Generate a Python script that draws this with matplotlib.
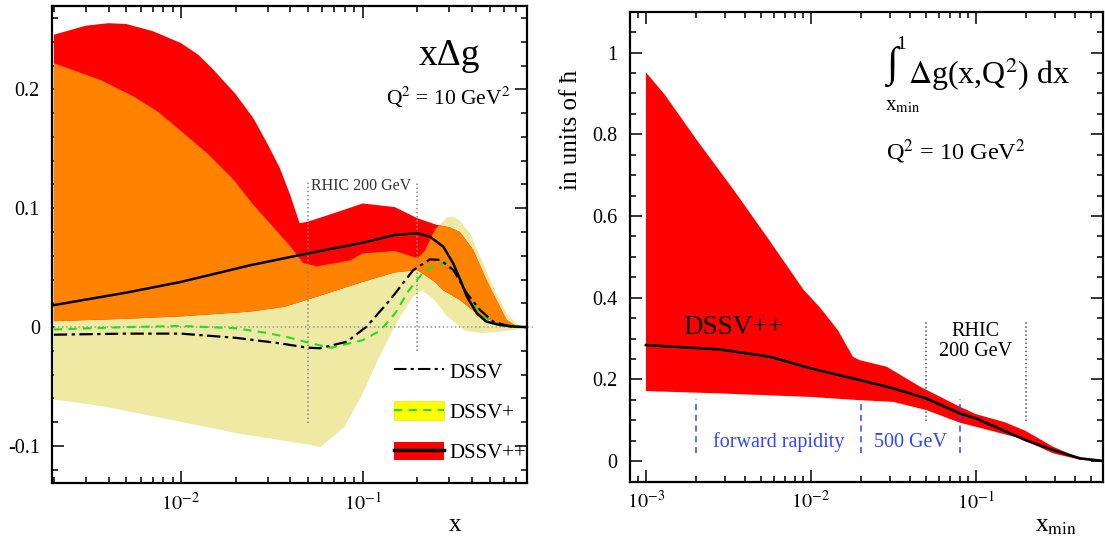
import numpy as np
import matplotlib
matplotlib.use("Agg")
import matplotlib.pyplot as plt
from matplotlib.ticker import LogLocator, MultipleLocator, FuncFormatter, NullFormatter
from matplotlib.lines import Line2D
from matplotlib.patches import Patch

plt.rcParams["font.family"] = ["Liberation Serif", "DejaVu Serif"]
plt.rcParams["mathtext.fontset"] = "stix"
plt.rcParams["axes.unicode_minus"] = False

# ---- left panel: x*Delta g(x) at Q2 = 10 GeV2 ----
# DSSV++ band (red)
pp_hi_x = [0.002, 0.003, 0.004, 0.005, 0.007, 0.01, 0.0125, 0.015, 0.02, 0.025, 0.03, 0.035, 0.04, 0.045,
           0.05, 0.07, 0.1, 0.15, 0.2, 0.256, 0.3, 0.343, 0.406, 0.48, 0.57, 0.62, 0.7, 0.8]
pp_hi_y = [0.246, 0.2536, 0.2557, 0.255, 0.249, 0.239, 0.229, 0.217, 0.196, 0.176, 0.154, 0.134, 0.111, 0.0874,
           0.0887, 0.096, 0.104, 0.101, 0.0916, 0.086, 0.084, 0.08, 0.065, 0.0396, 0.017, 0.006, 0.001, 0.0]
pp_lo_x = [0.002, 0.005, 0.01, 0.024, 0.037, 0.056, 0.1, 0.15, 0.2, 0.25, 0.278, 0.343, 0.424, 0.524, 0.65, 0.8]
pp_lo_y = [0.005, 0.007, 0.009, 0.013, 0.017, 0.0256, 0.038, 0.046, 0.048, 0.038, 0.031, 0.0228, 0.0116, 0.0045, 0.0005, 0.0]

# DSSV+ band (yellow)
p_hi_x = [0.002, 0.0036, 0.0055, 0.0075, 0.01, 0.014, 0.0195, 0.025, 0.031, 0.04, 0.047, 0.056, 0.085, 0.1,
          0.15, 0.2, 0.22, 0.25, 0.29, 0.315, 0.34, 0.39, 0.461, 0.524, 0.62, 0.7, 0.8]
p_hi_y = [0.222, 0.208, 0.194, 0.181, 0.165, 0.146, 0.124, 0.103, 0.087, 0.068, 0.054, 0.051, 0.056, 0.062,
          0.064, 0.058, 0.064, 0.082, 0.092, 0.093, 0.09, 0.079, 0.0537, 0.034, 0.0116, 0.003, 0.0]
p_lo_x = [0.002, 0.00375, 0.01, 0.0214, 0.0498, 0.0585, 0.0794, 0.0987, 0.1227, 0.1527, 0.19, 0.212,
          0.247, 0.294, 0.365, 0.454, 0.565, 0.703, 0.8]
p_lo_y = [-0.0609, -0.0667, -0.0797, -0.09, -0.0986, -0.101, -0.084, -0.058, -0.026, 0.003, 0.026, 0.031,
          0.023, 0.0087, -0.003, -0.005, -0.004, -0.002, 0.0]

# central curves
pp_x = [0.002, 0.005, 0.01, 0.024, 0.05, 0.1, 0.15, 0.2, 0.235, 0.278, 0.315, 0.345, 0.375, 0.425, 0.48, 0.57, 0.7, 0.8]
pp_y = [0.0185, 0.029, 0.038, 0.052, 0.062, 0.071, 0.0775, 0.079, 0.076, 0.0677, 0.0537, 0.0396, 0.0256,
        0.0116, 0.0046, 0.0018, 0.0003, 0.0]
dssv_x = [0.002, 0.005, 0.01, 0.02, 0.035, 0.0494, 0.0583, 0.0818, 0.105, 0.1415, 0.19, 0.235, 0.267,
          0.316, 0.374, 0.443, 0.524, 0.65, 0.8]
dssv_y = [-0.0064, -0.0055, -0.0055, -0.009, -0.0136, -0.0173, -0.0178, -0.0123, 0.0003, 0.0228, 0.048,
          0.057, 0.0565, 0.048, 0.0285, 0.0144, 0.0045, 0.0005, 0.0]
plus_x = [0.002, 0.005, 0.01, 0.02, 0.03, 0.04, 0.05, 0.0667, 0.1, 0.125, 0.151, 0.178, 0.22, 0.25, 0.29,
          0.343, 0.39, 0.46, 0.55, 0.7, 0.8]
plus_y = [-0.002, 0.0, 0.001, -0.001, -0.005, -0.009, -0.013, -0.0174, -0.011, -0.003, 0.0116, 0.03, 0.048,
          0.051, 0.055, 0.042, 0.023, 0.0088, 0.002, 0.0, 0.0]

rhic200 = [0.05, 0.2]
legend_labels = ["DSSV", "DSSV+", "DSSV++"]

# ---- right panel: truncated integral ----
int_hi_x = [0.001, 0.0013, 0.002, 0.0034, 0.0055, 0.009, 0.0114, 0.0146, 0.018, 0.0198, 0.0288, 0.046,
            0.08, 0.1, 0.15, 0.2, 0.294, 0.43, 0.6]
int_hi_y = [0.9515, 0.897, 0.79, 0.664, 0.545, 0.42, 0.375, 0.32, 0.255, 0.247, 0.231, 0.182,
            0.133, 0.115, 0.095, 0.074, 0.035, 0.0066, 0.0]
int_lo_x = [0.001, 0.0028, 0.01, 0.02, 0.0316, 0.05, 0.08, 0.1, 0.185, 0.294, 0.43, 0.6]
int_lo_y = [0.1714, 0.1657, 0.157, 0.149, 0.145, 0.125, 0.094, 0.084, 0.056, 0.019, 0.003, 0.0]
int_x = [0.001, 0.0028, 0.00565, 0.01, 0.02, 0.0316, 0.05, 0.08, 0.1, 0.2, 0.294, 0.43, 0.6]
int_y = [0.284, 0.2734, 0.2554, 0.2269, 0.198, 0.178, 0.1534, 0.1167, 0.1045, 0.0514, 0.0269, 0.0065, 0.0]

rhic500 = [0.002, 0.02, 0.08]


def log_fmt(v, pos):
    e = int(round(np.log10(v)))
    return r"$10^{%d}$" % e


def style_axes(ax, ymajor, yminor):
    ax.set_xscale("log")
    ax.xaxis.set_major_locator(LogLocator(base=10))
    ax.xaxis.set_minor_locator(LogLocator(base=10, subs=np.arange(2, 10)))
    ax.xaxis.set_major_formatter(FuncFormatter(log_fmt))
    ax.xaxis.set_minor_formatter(NullFormatter())
    ax.yaxis.set_major_locator(MultipleLocator(ymajor))
    ax.yaxis.set_minor_locator(MultipleLocator(yminor))
    ax.yaxis.set_major_formatter(FuncFormatter(lambda v, p: "%g" % round(v, 3)))
    ax.tick_params(which="both", direction="in", top=True, right=True, width=1.1, labelsize=14.5)
    ax.tick_params(which="major", length=8.4)
    ax.tick_params(which="minor", length=4.2)
    ax.tick_params(axis="y", pad=9)
    ax.tick_params(axis="x", pad=7)
    for s in ax.spines.values():
        s.set_linewidth(1.6)
    ax.set_axisbelow(True)


fig = plt.figure(figsize=(11.05, 5.38), dpi=100)

# left panel
ax1 = fig.add_axes([0.0473, 0.1026, 0.4300, 0.8859])
plus_poly_x = np.r_[p_hi_x, p_lo_x[::-1]]
plus_poly_y = np.r_[p_hi_y, p_lo_y[::-1]]
ax1.fill(plus_poly_x, plus_poly_y, facecolor="#eeeaa4", lw=0, zorder=1)
red_patch = ax1.fill(np.r_[pp_hi_x, pp_lo_x[::-1]], np.r_[pp_hi_y, pp_lo_y[::-1]],
                     facecolor="#ff0000", lw=0, zorder=1.1)[0]
# overlap of the two bands shows up orange
overlap = ax1.fill(plus_poly_x, plus_poly_y, facecolor="#ff8200", lw=0, zorder=1.2)[0]
overlap.set_clip_path(red_patch)

ax1.plot([0.002, 0.87], [0, 0], color="#999999", ls=":", lw=1.1, zorder=1.5, clip_on=False)
ax1.plot([rhic200[0]] * 2, [-0.081, 0.122], color="#888888", ls=":", lw=1.1, zorder=1.5)
ax1.plot([rhic200[1]] * 2, [-0.0203, 0.122], color="#888888", ls=":", lw=1.1, zorder=1.5)
ax1.text(0.098, 0.1188, "RHIC 200 GeV", fontsize=11.5, ha="center", va="center", color="#333333")

ax1.plot(plus_x, plus_y, color="#22dd22", ls=(0, (4, 3)), lw=1.5, zorder=2)
ax1.plot(dssv_x, dssv_y, color="black", ls=(0, (6, 2, 1.5, 2)), lw=1.6, zorder=2.1)
ax1.plot(pp_x, pp_y, color="black", lw=1.8, zorder=2.2)

ax1.set_xlim(0.00196, 0.807)
ax1.set_ylim(-0.131, 0.270)
style_axes(ax1, 0.1, 0.02)

ax1.text(0.835, 0.8955, "x\u0394g", transform=ax1.transAxes, fontsize=27, ha="center", va="center")
ax1.text(0.833, 0.809, r"Q$^2$ = 10 GeV$^2$", transform=ax1.transAxes, fontsize=15.5, ha="center", va="center")
ax1.text(0.848, -0.088, "x", transform=ax1.transAxes, fontsize=18, ha="center", va="center")

h_dssv = Line2D([], [], color="black", ls=(0, (6, 2, 1.5, 2)), lw=1.5)
h_plus = (Patch(facecolor="#ffff00", edgecolor="#e6e600", lw=0.5),
          Line2D([], [], color="#22dd22", ls=(0, (4, 3)), lw=1.5))
h_pp = (Patch(facecolor="#ff0000", lw=0), Line2D([], [], color="black", lw=2.5))
ax1.legend([h_dssv, h_plus, h_pp], legend_labels, loc="upper left", bbox_to_anchor=(0.719, 0.255),
           frameon=False, fontsize=15, handlelength=2.4, handleheight=1.0, handletextpad=0.25,
           labelspacing=0.9, borderpad=0, borderaxespad=0)

# right panel
ax2 = fig.add_axes([0.5701, 0.1050, 0.4281, 0.8732])
ax2.fill(np.r_[int_hi_x, int_lo_x[::-1]], np.r_[int_hi_y, int_lo_y[::-1]], facecolor="#ff0000", lw=0, zorder=1)
ax2.plot(int_x, int_y, color="black", lw=1.9, zorder=2)

for xv in rhic500:
    ax2.plot([xv, xv], [0.02, 0.151], color="#3344ff", ls=(0, (4, 3)), lw=1.1, zorder=1.5)
for xv in rhic200:
    ax2.plot([xv, xv], [0.0987, 0.345], color="#555555", ls=":", lw=1.1, zorder=1.5)

ax2.set_xlim(0.0008, 0.59)
ax2.set_ylim(-0.05, 1.1)
style_axes(ax2, 0.2, 0.05)

ax2.text(0.0064, 0.0457, "forward rapidity", color="#3344ff", fontsize=14.5, ha="center", va="center")
ax2.text(0.04, 0.0457, "500 GeV", color="#3344ff", fontsize=14.5, ha="center", va="center")
ax2.text(0.1, 0.318, "RHIC", fontsize=14.5, ha="center", va="center")
ax2.text(0.1, 0.2676, "200 GeV", fontsize=14.5, ha="center", va="center")
ax2.text(0.0034, 0.328, "DSSV++", fontsize=19.5, ha="center", va="center")

ax2.text(0.554, 0.884, "\u222b", transform=ax2.transAxes, fontsize=30, ha="center", va="center")
ax2.text(0.573, 0.931, "1", transform=ax2.transAxes, fontsize=14, ha="center", va="center")
ax2.text(0.577, 0.799, r"x$_{\rm min}$", transform=ax2.transAxes, fontsize=15, ha="center", va="center")
ax2.text(0.588, 0.867, r"$\Delta$g(x,Q$^2$) dx", transform=ax2.transAxes, fontsize=23, ha="left", va="center")
ax2.text(0.689, 0.701, r"Q$^2$ = 10 GeV$^2$", transform=ax2.transAxes, fontsize=17.5, ha="center", va="center")
ax2.text(0.9, -0.095, r"x$_{\rm min}$", transform=ax2.transAxes, fontsize=18, ha="center", va="center")

ax2.set_ylabel("in units of \u0127", fontsize=18)
ax2.yaxis.set_label_coords(-0.101, 0.748)

fig.savefig("out.png", dpi=100)
